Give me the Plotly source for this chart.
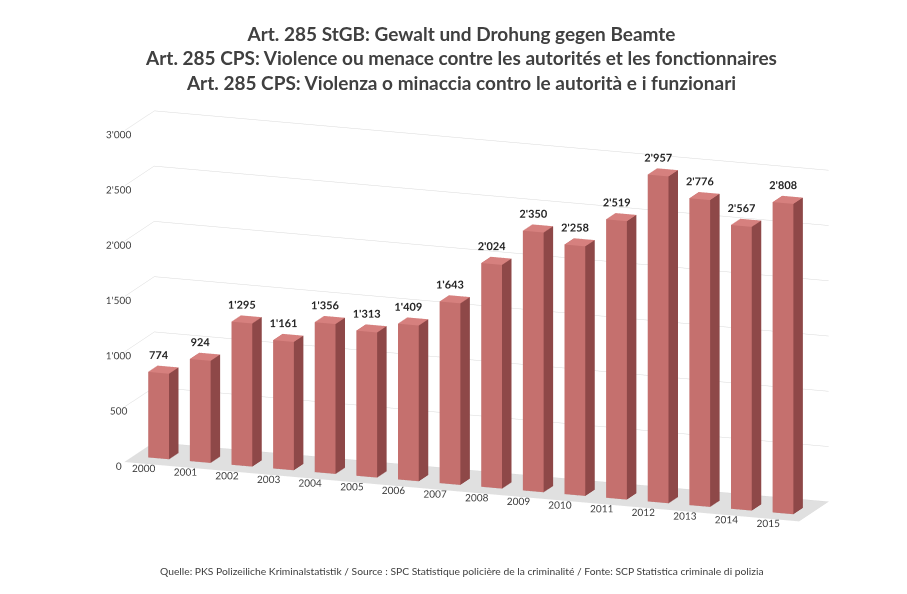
import plotly.graph_objects as go
import math

years = ["2000", "2001", "2002", "2003", "2004", "2005", "2006", "2007",
         "2008", "2009", "2010", "2011", "2012", "2013", "2014", "2015"]
values = [774, 924, 1295, 1161, 1356, 1313, 1409, 1643,
          2024, 2350, 2258, 2519, 2957, 2776, 2567, 2808]
value_labels = ["774", "924", "1'295", "1'161", "1'356", "1'313", "1'409", "1'643",
                "2'024", "2'350", "2'258", "2'519", "2'957", "2'776", "2'567", "2'808"]
z_tickvals = [0, 500, 1000, 1500, 2000, 2500, 3000]
z_ticktext = ["0", "500", "1'000", "1'500", "2'000", "2'500", "3'000"]

title_lines = ["Art. 285 StGB: Gewalt und Drohung gegen Beamte",
               "Art. 285 CPS: Violence ou menace contre les autorités et les fonctionnaires",
               "Art. 285 CPS: Violenza o minaccia contro le autorità e i funzionari"]
source_text = ("Quelle: PKS Polizeiliche Kriminalstatistik / Source : SPC Statistique policière "
               "de la criminalité / Fonte: SCP Statistica criminale di polizia")

BAR_W = 0.5
Y0, Y1 = 0.3, 0.62
FRONT = "#c5706e"
SIDE = "#8e4848"
TOP = "#d6807e"
LEFT = "#b86060"
BACK = "#8e4848"
BOTTOM = "#8e4848"

xs, ys, zs, ii, jj, kk, fc = [], [], [], [], [], [], []
for n, v in enumerate(values):
    x0, x1 = n - BAR_W / 2, n + BAR_W / 2
    base = len(xs)
    verts = [(x0, Y0, 0), (x1, Y0, 0), (x1, Y1, 0), (x0, Y1, 0),
             (x0, Y0, v), (x1, Y0, v), (x1, Y1, v), (x0, Y1, v)]
    for (a, b, c) in verts:
        xs.append(a); ys.append(b); zs.append(c)
    faces = [
        ((0, 1, 5), FRONT), ((0, 5, 4), FRONT),
        ((1, 2, 6), SIDE), ((1, 6, 5), SIDE),
        ((4, 5, 6), TOP), ((4, 6, 7), TOP),
        ((0, 3, 7), LEFT), ((0, 7, 4), LEFT),
        ((3, 2, 6), BACK), ((3, 6, 7), BACK),
        ((0, 1, 2), BOTTOM), ((0, 2, 3), BOTTOM),
    ]
    for (t, col) in faces:
        ii.append(base + t[0]); jj.append(base + t[1]); kk.append(base + t[2]); fc.append(col)

fig = go.Figure()
fig.add_trace(go.Mesh3d(
    x=xs, y=ys, z=zs, i=ii, j=jj, k=kk, facecolor=fc, flatshading=True,
    lighting=dict(ambient=1.0, diffuse=0.0, specular=0.0, roughness=1, fresnel=0),
    hoverinfo="skip", showscale=False,
))
fig.add_trace(go.Scatter3d(
    x=list(range(len(values))), y=[Y0] * len(values), z=[v + 25 for v in values],
    mode="text", text=value_labels, textposition="top center",
    textfont=dict(family="Lato", size=11, color="#262626", weight="bold"),
    hoverinfo="skip", showlegend=False,
))

theta = math.radians(20)
phi = math.radians(14)
r = 2.2
cx = -0.07
eye = dict(x=cx + r * math.sin(theta) * math.cos(phi),
           y=-r * math.cos(theta) * math.cos(phi),
           z=r * math.sin(phi))

S = 1.55
axis_common = dict(showspikes=False, title=dict(text=""), showline=False, zeroline=False,
                   tickangle=0)
fig.update_layout(
    width=907, height=594,
    paper_bgcolor="white",
    margin=dict(l=0, r=0, t=0, b=0),
    showlegend=False,
    title=dict(text="<br>".join(title_lines), x=0.5, xanchor="center", y=0.945, yanchor="top",
               font=dict(family="Lato", size=19, color="#404040", weight="bold")),
    scene=dict(
        domain=dict(x=[0.0, 1.0], y=[0.107, 0.887]),
        xaxis=dict(range=[-0.6, 15.6], tickvals=list(range(len(years))), ticktext=years,
                   showgrid=False, showbackground=False,
                   tickfont=dict(family="Lato", size=11, color="#404040"), **axis_common),
        yaxis=dict(range=[0, 1], showgrid=False, showticklabels=False, showbackground=False,
                   ticks="", **axis_common),
        zaxis=dict(range=[0, 3150], tickvals=z_tickvals, ticktext=z_ticktext,
                   showgrid=True, gridcolor="#d9d9d9", gridwidth=1,
                   showbackground=True, backgroundcolor="#e0e0e0",
                   tickfont=dict(family="Lato", size=11, color="#404040"), **axis_common),
        aspectmode="manual", aspectratio=dict(x=2.0 * S, y=0.24 * S, z=1.0 * S),
        camera=dict(eye=eye, center=dict(x=cx, y=0, z=0),
                    projection=dict(type="orthographic")),
    ),
    annotations=[dict(text=source_text, x=0.5, y=0.0525, xref="paper", yref="paper",
                      xanchor="center", yanchor="middle", showarrow=False,
                      font=dict(family="Lato", size=10.3, color="#404040"))],
)

fig.write_html("out.html")
